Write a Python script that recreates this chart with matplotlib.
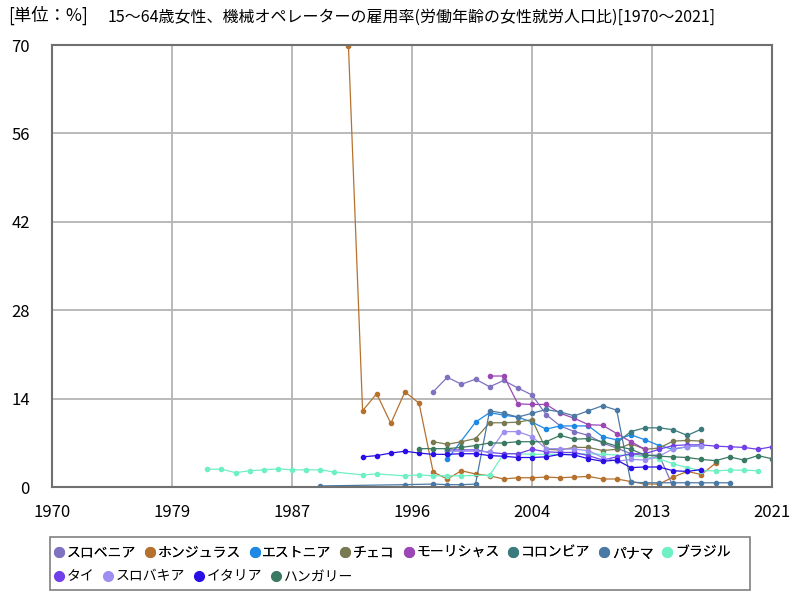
import matplotlib
matplotlib.use('Agg')
import matplotlib.pyplot as plt
from matplotlib.lines import Line2D
from matplotlib.patches import Rectangle

plt.rcParams['font.family'] = ['Noto Sans CJK JP', 'DejaVu Sans']

# data (value in %)
slovenia_years = [1997, 1998, 1999, 2000, 2001, 2002, 2003, 2004, 2005, 2006, 2007, 2008, 2009, 2010,
                  2011, 2012, 2013, 2014]
slovenia_vals = [15.1, 17.4, 16.3, 17.1, 15.9, 16.9, 15.7, 14.6, 11.5, 9.7, 8.8, 8.2, 7.0, 6.2,
                 5.3, 5.0, 5.1, 0.05]

honduras_years = list(range(1991, 2018))
honduras_vals = [69.8, 12.1, 14.8, 10.1, 15.1, 13.3, 2.4, 1.3, 2.6, 2.1, 1.8, 1.3, 1.5, 1.5,
                 1.6, 1.5, 1.6, 1.7, 1.3, 1.3, 0.9, 0.5, 0.5, 1.6, 2.5, 2.0, 3.8]

estonia_years = [1998, 2000, 2001, 2002, 2003, 2004, 2005, 2006, 2007, 2008, 2009, 2010, 2011,
                 2012, 2013, 2014, 2015, 2016]
estonia_vals = [4.4, 10.3, 11.8, 11.4, 11.1, 10.3, 9.2, 9.7, 9.7, 9.7, 8.0, 7.5, 8.3,
                7.5, 6.6, 6.0, 6.4, 6.6]

czech_years = list(range(1997, 2017))
czech_vals = [7.2, 6.8, 7.2, 7.7, 10.2, 10.2, 10.3, 10.7, 6.0, 5.9, 6.3, 6.3, 5.8, 6.0,
              6.9, 6.0, 6.2, 7.3, 7.4, 7.3]

mauritius_years = list(range(2001, 2013))
mauritius_vals = [17.6, 17.6, 13.2, 13.1, 13.1, 11.7, 10.9, 9.9, 9.8, 8.5, 7.2, 6.0]

colombia_years = list(range(2010, 2017))
colombia_vals = [7.0, 8.8, 9.4, 9.4, 9.1, 8.2, 9.2]

panama_years = [1989, 1995, 1997, 1998, 1999, 2000, 2001, 2002, 2003, 2004, 2005, 2006, 2007,
                2008, 2009, 2010, 2011, 2012, 2013, 2014, 2015, 2016, 2017, 2018]
panama_vals = [0.2, 0.4, 0.5, 0.4, 0.4, 0.5, 12.1, 11.7, 11.1, 11.7, 12.3, 11.9, 11.3,
               12.1, 12.9, 12.2, 0.8, 0.7, 0.7, 0.7, 0.7, 0.7, 0.7, 0.7]

brazil_years = [1981, 1982, 1983, 1984, 1985, 1986, 1987, 1988, 1989, 1990, 1992, 1993, 1995,
                1996, 1997, 1998, 1999, 2001, 2002, 2003, 2004, 2005, 2006, 2007, 2008, 2009,
                2011, 2012, 2013, 2014, 2015, 2016, 2017, 2018, 2019, 2020]
brazil_vals = [2.85, 2.85, 2.3, 2.6, 2.75, 2.9, 2.75, 2.75, 2.75, 2.4, 1.95, 2.1, 1.8,
               1.95, 1.8, 1.8, 1.8, 1.9, 5.3, 5.3, 5.2, 5.2, 5.2, 5.2, 5.3, 5.2,
               5.0, 4.8, 4.5, 3.7, 3.1, 2.6, 2.6, 2.7, 2.7, 2.6]

thai_years = list(range(1998, 2022))
thai_vals = [5.9, 5.9, 5.9, 5.5, 5.3, 5.3, 6.0, 5.6, 5.5, 5.5, 5.0, 4.3, 4.8, 5.3,
             5.3, 6.0, 6.6, 6.7, 6.7, 6.5, 6.4, 6.3, 6.0, 6.4]

slovakia_years = list(range(1998, 2017))
slovakia_vals = [5.7, 5.7, 5.7, 5.6, 8.8, 8.8, 8.0, 6.1, 6.1, 6.0, 5.8, 4.7, 4.1, 4.4,
                 4.3, 4.9, 6.1, 6.4, 6.6]

italy_years = list(range(1992, 2017))
italy_vals = [4.8, 5.0, 5.4, 5.7, 5.4, 5.2, 5.2, 5.3, 5.3, 5.0, 4.9, 4.7, 4.7, 4.8,
              5.2, 5.1, 4.5, 4.1, 4.3, 3.1, 3.2, 3.2, 2.6, 2.5, 2.8]

hungary_years = list(range(1996, 2022))
hungary_vals = [6.1, 6.1, 6.1, 6.3, 6.6, 7.0, 7.0, 7.2, 7.2, 7.2, 8.2, 7.6, 7.7, 7.2,
                6.5, 6.0, 5.1, 4.9, 4.8, 4.7, 4.4, 4.2, 4.8, 4.3, 5.0, 4.5]

series = [
    ('スロベニア', slovenia_years, slovenia_vals, '#7f72c0'),
    ('ホンジュラス', honduras_years, honduras_vals, '#b5722f'),
    ('エストニア', estonia_years, estonia_vals, '#1e88e5'),
    ('チェコ', czech_years, czech_vals, '#7a7a52'),
    ('モーリシャス', mauritius_years, mauritius_vals, '#9b47b5'),
    ('コロンビア', colombia_years, colombia_vals, '#3b7a7d'),
    ('パナマ', panama_years, panama_vals, '#4a79a5'),
    ('ブラジル', brazil_years, brazil_vals, '#6ef0c4'),
    ('タイ', thai_years, thai_vals, '#7040e8'),
    ('スロバキア', slovakia_years, slovakia_vals, '#9d8ef2'),
    ('イタリア', italy_years, italy_vals, '#2a0ee6'),
    ('ハンガリー', hungary_years, hungary_vals, '#3b7a62'),
]

x_ticks = [1970, 1978.5, 1987, 1995.5, 2004, 2012.5, 2021]
x_labels = ['1970', '1979', '1987', '1996', '2004', '2013', '2021']
y_ticks = [0, 14, 28, 42, 56, 70]

fig = plt.figure(figsize=(8, 6), dpi=100)
ax = fig.add_axes([0.065, 0.188, 0.9, 0.737])

for name, xs, ys, col in series:
    ax.plot(xs, ys, color=col, linewidth=0.9, marker='o', markersize=3.0, label=name)

ax.set_xlim(1970, 2021)
ax.set_ylim(0, 70)
ax.set_xticks(x_ticks)
ax.set_xticklabels(x_labels)
ax.set_yticks(y_ticks)
ax.tick_params(length=0, labelsize=12, pad=12)
ax.tick_params(axis='y', pad=16)
ax.grid(True, color='#b4b4b4', linewidth=1.3)
ax.set_axisbelow(True)
for sp in ax.spines.values():
    sp.set_color('#707070')
    sp.set_linewidth(1.5)

fig.text(0.01, 0.975, '[単位：%]', fontsize=12.5, va='center', ha='left')
fig.text(0.135, 0.972, '15～64歳女性、機械オペレーターの雇用率(労働年齢の女性就労人口比)[1970～2021]',
         fontsize=11.5, va='center', ha='left')

# legend: flow layout, two rows inside one box
handles = [Line2D([], [], linestyle='none', marker='o', markersize=7, color=c) for _, _, _, c in series]
names = [s[0] for s in series]
leg1 = fig.legend(handles[:8], names[:8], loc='upper left', bbox_to_anchor=(0.058, 0.1),
                  ncol=8, frameon=False, fontsize=10, handletextpad=0.05, columnspacing=0.5,
                  handlelength=1.0, borderaxespad=0)
leg2 = fig.legend(handles[8:], names[8:], loc='upper left', bbox_to_anchor=(0.058, 0.06),
                  ncol=4, frameon=False, fontsize=10, handletextpad=0.05, columnspacing=0.5,
                  handlelength=1.0, borderaxespad=0)
fig.add_artist(leg1)
fig.patches.append(Rectangle((0.062, 0.017), 0.876, 0.088, transform=fig.transFigure,
                             fill=False, edgecolor='#808080', linewidth=1.2))

fig.savefig('out.png', dpi=100)
